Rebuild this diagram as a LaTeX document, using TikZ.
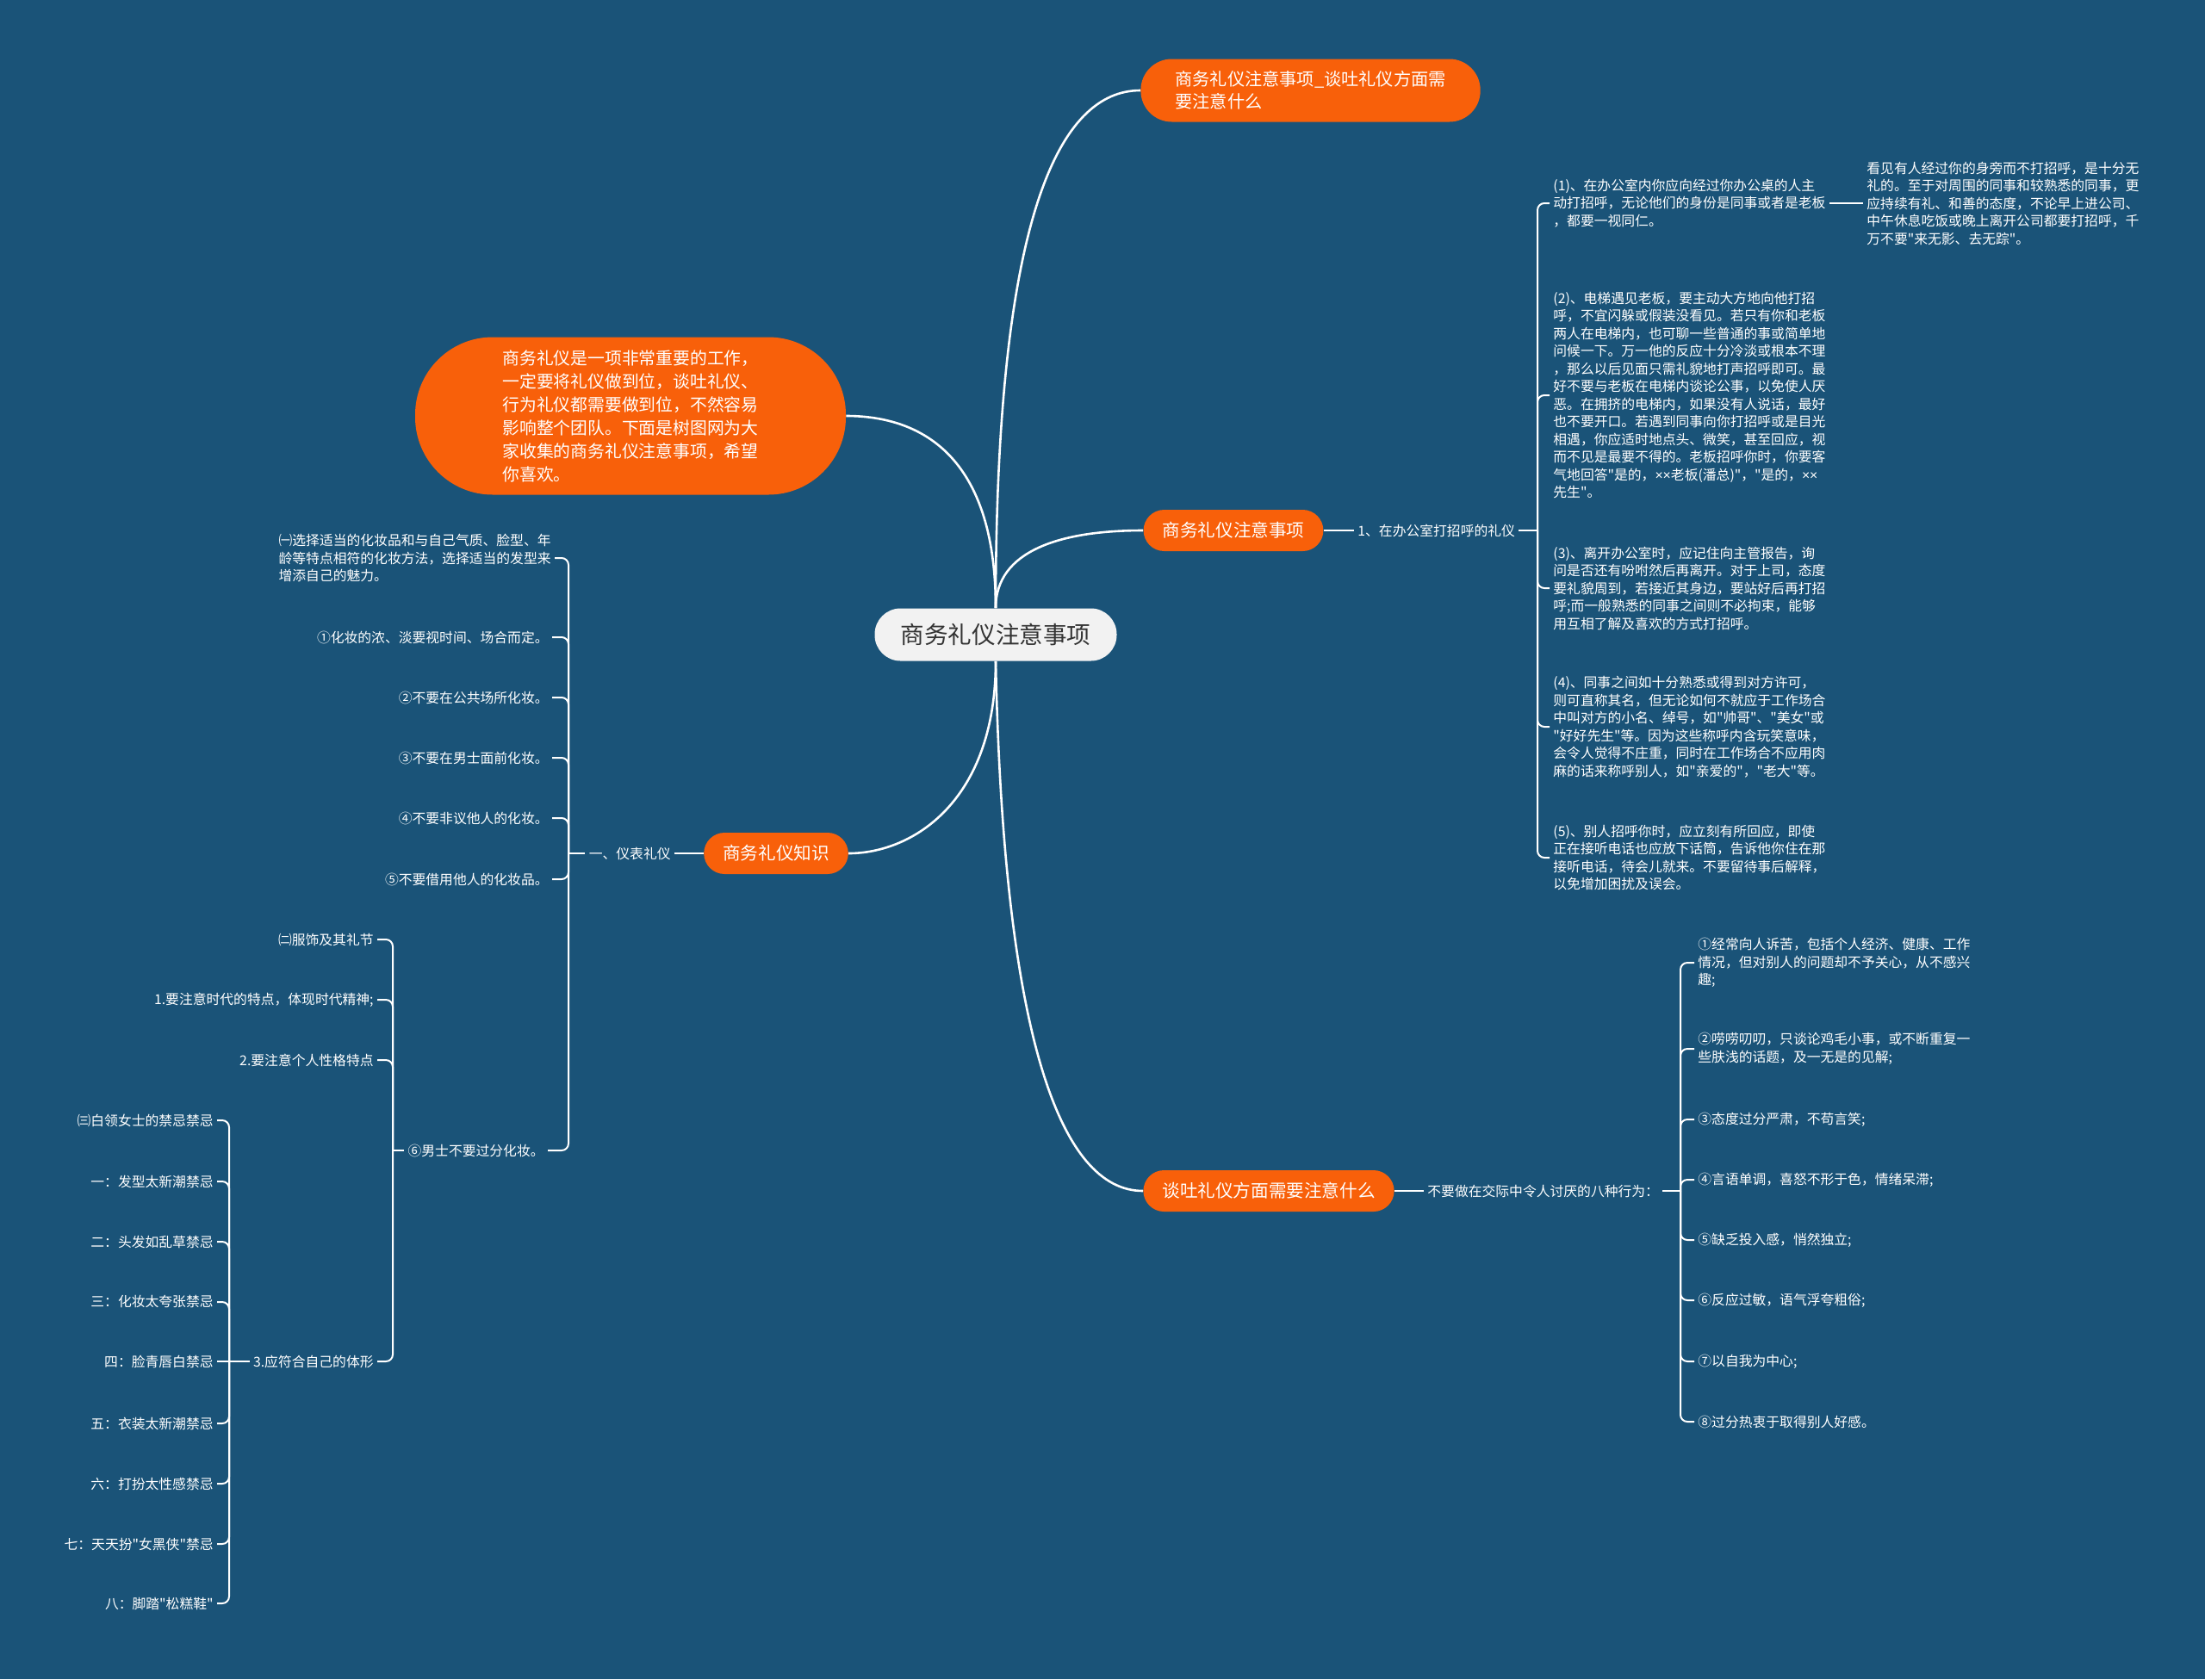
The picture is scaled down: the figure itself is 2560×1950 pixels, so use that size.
\documentclass[tikz,border=0pt]{standalone}
\usepackage{fontspec}
\setmainfont{Noto Sans CJK SC}[Ligatures=TeXOff]
\newfontfamily\latinfont{Liberation Sans}
\definecolor{bg}{HTML}{1A5378}
\definecolor{branchorange}{HTML}{F8600A}
\definecolor{rootfill}{HTML}{F2F2F2}
\definecolor{roottext}{HTML}{333333}

\tikzset{
  rootbox/.style={fill=rootfill, text=roottext, rounded corners=15pt, minimum width=140.5pt, minimum height=30.5pt, font=\fontsize{13.8}{16}\selectfont},
  branchbox/.style={fill=branchorange, text=white, rounded corners=12pt, minimum height=24pt, inner xsep=11pt, font=\fontsize{10.3}{12}\selectfont},
  topbox/.style={branchbox, align=left, rounded corners=18pt, minimum height=36.5pt, inner xsep=20pt, font=\fontsize{10.1}{13}\selectfont},
  introbox/.style={branchbox, align=left, rounded corners=45pt, minimum width=250pt, minimum height=91.5pt, font=\fontsize{9.9}{13.5}\selectfont},
  leaftext/.style={text=white, inner sep=2pt, align=left, font=\fontsize{7.9}{10.25}\selectfont},
  curve/.style={draw=white, line width=1.3pt},
  bracketline/.style={draw=white, line width=1pt, rounded corners=4pt},
}

\begin{document}
\begin{tikzpicture}[x=0.5pt,y=-0.5pt]
      \useasboundingbox (0,0) rectangle (2560,1950);
      \fill[bg] (0,0) rectangle (2560,1950);

      \node[rootbox] (root) at (1156,737) {商务礼仪注意事项};
      \node[topbox, anchor=west] (top) at (1324,105) {商务礼仪注意事项\_谈吐礼仪方面需\\要注意什么};
      \node[introbox] (intro) at (732,483) {商务礼仪是一项非常重要的工作，\\一定要将礼仪做到位，谈吐礼仪、\\行为礼仪都需要做到位，不然容易\\影响整个团队。下面是树图网为大\\家收集的商务礼仪注意事项，希望\\你喜欢。};
      \node[branchbox] (note) at (1432,616) {商务礼仪注意事项};
      \node[branchbox] (know) at (901,991) {商务礼仪知识};
      \node[branchbox] (talk) at (1473,1383) {谈吐礼仪方面需要注意什么};

      \draw[curve] (root.north) .. controls (1156,250) and (1230,105) .. (top.west);
      \draw[curve] (root.north) .. controls (1156,520) and (1060,483) .. (intro.east);
      \draw[curve] (root.north) .. controls (1156,640) and (1230,616) .. (note.west);
      \draw[curve] (root.south) .. controls (1156,930) and (1060,991) .. (know.east);
      \draw[curve] (root.south) .. controls (1165,1200) and (1230,1383) .. (talk.west);

      % 商务礼仪注意事项
      \node[leaftext, anchor=west] (greet) at (1572,616) {1、在办公室打招呼的礼仪};
      \coordinate (j1) at (1785,616);
      \node[leaftext, anchor=west] (g1) at (1799,236) {(1)、在办公室内你应向经过你办公桌的人主\\动打招呼，无论他们的身份是同事或者是老板\\，都要一视同仁。};
      \node[leaftext, anchor=west] (g1a) at (2163,236) {看见有人经过你的身旁而不打招呼，是十分无\\礼的。至于对周围的同事和较熟悉的同事，更\\应持续有礼、和善的态度，不论早上进公司、\\中午休息吃饭或晚上离开公司都要打招呼，千\\万不要"来无影、去无踪"。};
      \node[leaftext, anchor=west] (g2) at (1799,459) {(2)、电梯遇见老板，要主动大方地向他打招\\呼，不宜闪躲或假装没看见。若只有你和老板\\两人在电梯内，也可聊一些普通的事或简单地\\问候一下。万一他的反应十分冷淡或根本不理\\，那么以后见面只需礼貌地打声招呼即可。最\\好不要与老板在电梯内谈论公事，以免使人厌\\恶。在拥挤的电梯内，如果没有人说话，最好\\也不要开口。若遇到同事向你打招呼或是目光\\相遇，你应适时地点头、微笑，甚至回应，视\\而不见是最要不得的。老板招呼你时，你要客\\气地回答"是的，{\latinfont ××}老板(潘总)"，"是的，{\latinfont ××}\\先生"。};
      \node[leaftext, anchor=west] (g3) at (1799,683) {(3)、离开办公室时，应记住向主管报告，询\\问是否还有吩咐然后再离开。对于上司，态度\\要礼貌周到，若接近其身边，要站好后再打招\\呼;而一般熟悉的同事之间则不必拘束，能够\\用互相了解及喜欢的方式打招呼。};
      \node[leaftext, anchor=west] (g4) at (1799,844) {(4)、同事之间如十分熟悉或得到对方许可，\\则可直称其名，但无论如何不就应于工作场合\\中叫对方的小名、绰号，如"帅哥"、"美女"或\\"好好先生"等。因为这些称呼内含玩笑意味，\\会令人觉得不庄重，同时在工作场合不应用肉\\麻的话来称呼别人，如"亲爱的"，"老大"等。};
      \node[leaftext, anchor=west] (g5) at (1799,996) {(5)、别人招呼你时，应立刻有所回应，即使\\正在接听电话也应放下话筒，告诉他你住在那\\接听电话，待会儿就来。不要留待事后解释，\\以免增加困扰及误会。};

      \draw[bracketline] (note.east) -- (greet.west);
      \draw[bracketline] (greet.east) -- (j1);
      \draw[bracketline] (j1) |- (g1.west);
      \draw[bracketline] (j1) |- (g2.west);
      \draw[bracketline] (j1) |- (g3.west);
      \draw[bracketline] (j1) |- (g4.west);
      \draw[bracketline] (j1) |- (g5.west);
      \draw[bracketline] (g1.east) -- (g1a.west);

      % 商务礼仪知识
      \node[leaftext, anchor=east] (dress) at (783,991) {一、仪表礼仪};
      \coordinate (j2) at (660,991);
      \node[leaftext, anchor=east] (m0) at (644,648) {㈠选择适当的化妆品和与自己气质、脸型、年\\龄等特点相符的化妆方法，选择适当的发型来\\增添自己的魅力。};
      \node[leaftext, anchor=east] (m1) at (641,740) {①化妆的浓、淡要视时间、场合而定。};
      \node[leaftext, anchor=east] (m2) at (641,810) {②不要在公共场所化妆。};
      \node[leaftext, anchor=east] (m3) at (641,880) {③不要在男士面前化妆。};
      \node[leaftext, anchor=east] (m4) at (641,950) {④不要非议他人的化妆。};
      \node[leaftext, anchor=east] (m5) at (641,1021) {⑤不要借用他人的化妆品。};
      \node[leaftext, anchor=east] (m6) at (636,1336) {⑥男士不要过分化妆。};

      \draw[bracketline] (know.west) -- (dress.east);
      \draw[bracketline] (dress.west) -- (j2);
      \draw[bracketline] (j2) |- (m0.east);
      \draw[bracketline] (j2) |- (m1.east);
      \draw[bracketline] (j2) |- (m2.east);
      \draw[bracketline] (j2) |- (m3.east);
      \draw[bracketline] (j2) |- (m4.east);
      \draw[bracketline] (j2) |- (m5.east);
      \draw[bracketline] (j2) |- (m6.east);

      \coordinate (j3) at (456,1336);
      \node[leaftext, anchor=east] (c0) at (438,1091) {㈡服饰及其礼节};
      \node[leaftext, anchor=east] (c1) at (438,1161) {1.要注意时代的特点，体现时代精神;};
      \node[leaftext, anchor=east] (c2) at (438,1231) {2.要注意个人性格特点};
      \node[leaftext, anchor=east] (c3) at (438,1581) {3.应符合自己的体形};

      \draw[bracketline] (m6.west) -- (j3);
      \draw[bracketline] (j3) |- (c0.east);
      \draw[bracketline] (j3) |- (c1.east);
      \draw[bracketline] (j3) |- (c2.east);
      \draw[bracketline] (j3) |- (c3.east);

      \coordinate (j4) at (266,1581);
      \node[leaftext, anchor=east] (f0) at (252,1301) {㈢白领女士的禁忌禁忌};
      \node[leaftext, anchor=east] (f1) at (252,1372) {一：发型太新潮禁忌};
      \node[leaftext, anchor=east] (f2) at (252,1442) {二：头发如乱草禁忌};
      \node[leaftext, anchor=east] (f3) at (252,1512) {三：化妆太夸张禁忌};
      \node[leaftext, anchor=east] (f4) at (252,1581) {四：脸青唇白禁忌};
      \node[leaftext, anchor=east] (f5) at (252,1653) {五：衣装太新潮禁忌};
      \node[leaftext, anchor=east] (f6) at (252,1723) {六：打扮太性感禁忌};
      \node[leaftext, anchor=east] (f7) at (252,1793) {七：天天扮"女黑侠"禁忌};
      \node[leaftext, anchor=east] (f8) at (252,1862) {八：脚踏"松糕鞋"};

      \draw[bracketline] (c3.west) -- (j4);
      \draw[bracketline] (j4) |- (f0.east);
      \draw[bracketline] (j4) |- (f1.east);
      \draw[bracketline] (j4) |- (f2.east);
      \draw[bracketline] (j4) |- (f3.east);
      \draw[bracketline] (j4) -- (f4.east);
      \draw[bracketline] (j4) |- (f5.east);
      \draw[bracketline] (j4) |- (f6.east);
      \draw[bracketline] (j4) |- (f7.east);
      \draw[bracketline] (j4) |- (f8.east);

      % 谈吐礼仪方面需要注意什么
      \node[leaftext, anchor=west] (avoid) at (1653,1383) {不要做在交际中令人讨厌的八种行为：};
      \coordinate (j5) at (1951,1383);
      \node[leaftext, anchor=west] (b1) at (1967,1118) {①经常向人诉苦，包括个人经济、健康、工作\\情况，但对别人的问题却不予关心，从不感兴\\趣;};
      \node[leaftext, anchor=west] (b2) at (1967,1218) {②唠唠叨叨，只谈论鸡毛小事，或不断重复一\\些肤浅的话题，及一无是的见解;};
      \node[leaftext, anchor=west] (b3) at (1967,1300) {③态度过分严肃，不苟言笑;};
      \node[leaftext, anchor=west] (b4) at (1967,1370) {④言语单调，喜怒不形于色，情绪呆滞;};
      \node[leaftext, anchor=west] (b5) at (1967,1440) {⑤缺乏投入感，悄然独立;};
      \node[leaftext, anchor=west] (b6) at (1967,1510) {⑥反应过敏，语气浮夸粗俗;};
      \node[leaftext, anchor=west] (b7) at (1967,1581) {⑦以自我为中心;};
      \node[leaftext, anchor=west] (b8) at (1967,1651) {⑧过分热衷于取得别人好感。};

      \draw[bracketline] (talk.east) -- (avoid.west);
      \draw[bracketline] (avoid.east) -- (j5);
      \draw[bracketline] (j5) |- (b1.west);
      \draw[bracketline] (j5) |- (b2.west);
      \draw[bracketline] (j5) |- (b3.west);
      \draw[bracketline] (j5) |- (b4.west);
      \draw[bracketline] (j5) |- (b5.west);
      \draw[bracketline] (j5) |- (b6.west);
      \draw[bracketline] (j5) |- (b7.west);
      \draw[bracketline] (j5) |- (b8.west);
\end{tikzpicture}
\end{document}
